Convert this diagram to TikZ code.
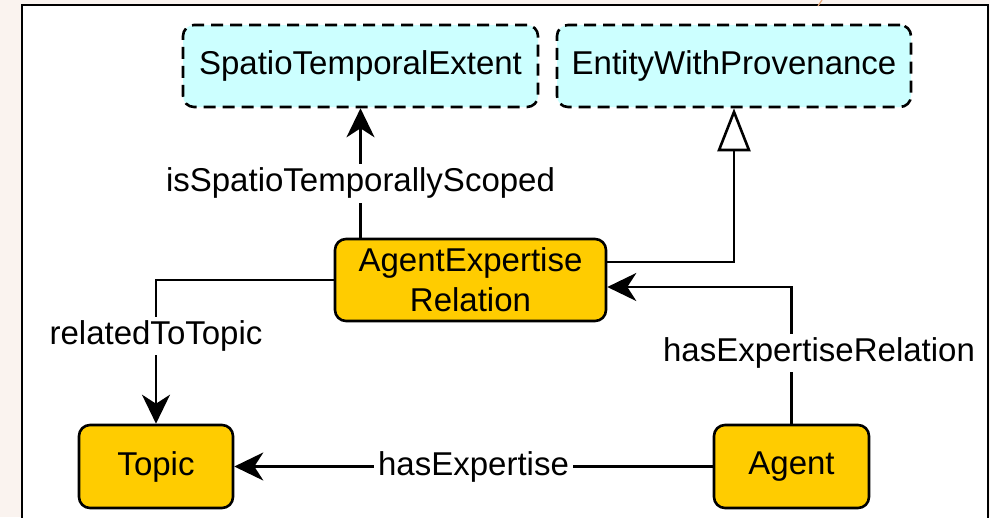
\documentclass[tikz,border=0pt]{standalone}
\usepackage{fontspec}
\setmainfont{Liberation Sans}
\usetikzlibrary{arrows.meta}
\definecolor{pagebg}{HTML}{FAF3EF}
\definecolor{classfill}{HTML}{FFCC00}
\definecolor{extfill}{HTML}{CCFFFF}
\definecolor{tick}{HTML}{E8A878}
\tikzset{
  every node/.style={font=\fontsize{33}{40}\selectfont},
  cls/.style={draw, line width=2.6pt, rounded corners=11pt, fill=classfill, align=center, inner sep=0pt},
  extcls/.style={draw, line width=2.6pt, rounded corners=11pt, fill=extfill, dash pattern=on 12pt off 7pt, inner sep=0pt},
  rel/.style={line width=2.6pt, -{Stealth[length=29pt, width=28pt, inset=9pt]}},
  gen/.style={line width=2.6pt, -{Triangle[open, length=43pt, width=33pt, fill=white]}},
  lbl/.style={fill=white, inner sep=4pt}
}
\begin{document}
\begin{tikzpicture}[x=1pt, y=-1pt]
  \useasboundingbox (0,0) rectangle (990,517);
  \fill[pagebg] (0,0) rectangle (990,517);
  \draw[line width=2pt, fill=white] (22,5) rectangle (988,545);
  \draw[tick, line width=1.2pt] (822,0) -- (818,6);

  % classes
  \node[extcls, minimum width=355pt, minimum height=82pt] (ste) at (360.5,66) {SpatioTemporalExtent};
  \node[extcls, minimum width=354pt, minimum height=82pt] (ewp) at (734,66) {EntityWithProvenance};
  \node[cls, minimum width=271pt, minimum height=82pt] (aer) at (470.5,280) {AgentExpertise\\Relation};
  \node[cls, minimum width=154pt, minimum height=83pt] (topic) at (156,466.5) {Topic};
  \node[cls, minimum width=155pt, minimum height=83pt] (agent) at (791.5,466.5) {Agent};

  % relations
  \draw[rel] (aer.north -| ste) -- (ste.south)
    node[lbl, pos=0.42] {isSpatioTemporallyScoped};
  \draw[gen] ([yshift=18pt]aer.east) -| (ewp.south);
  \draw[rel] (aer.west) -| (topic.north);
  \node[lbl] (lrt) at (156,336) {relatedToTopic};
  \draw[rel] (agent.north) |- ([yshift=-7pt]aer.east);
  \node[lbl] (lher) at (819,353) {hasExpertiseRelation};
  \draw[rel] (agent.west) -- (topic.east)
    node[lbl, midway] {hasExpertise};
\end{tikzpicture}
\end{document}
